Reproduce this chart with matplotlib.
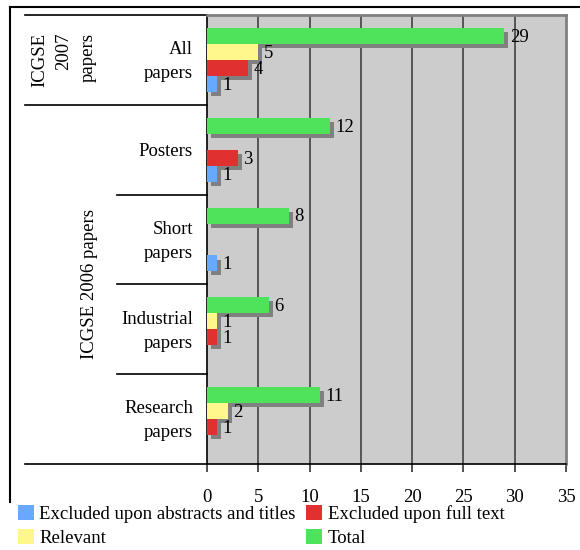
import matplotlib
matplotlib.use("Agg")
import matplotlib.pyplot as plt
import matplotlib.patheffects as pe
from matplotlib.lines import Line2D
import matplotlib.transforms as mtrans

plt.rcParams['font.family'] = ['Liberation Serif', 'DejaVu Serif']

categories = ["All\npapers", "Posters", "Short\npapers", "Industrial\npapers", "Research\npapers"]
series_names = ["Total", "Relevant", "Excluded upon full text", "Excluded upon abstracts and titles"]
total = [29, 12, 8, 6, 11]
relevant = [5, 0, 0, 1, 2]
excl_full = [4, 3, 0, 1, 1]
excl_abs = [1, 1, 1, 0, 0]
xticks = [0, 5, 10, 15, 20, 25, 30, 35]
group_labels = ["ICGSE\n2007\npapers", "ICGSE 2006 papers"]

colors = {"Total": "#4ee35a", "Relevant": "#fff68c",
          "Excluded upon full text": "#e0302f",
          "Excluded upon abstracts and titles": "#66aaff"}

fig = plt.figure(figsize=(5.8, 5.5), dpi=100)
W, H = 580, 550
ax = fig.add_axes([207 / W, 1 - 464 / H, (566 - 207) / W, (464 - 15) / H])
ax.set_facecolor("#cccccc")

fs = 13.5
bh = 0.178
offsets = [-1.5 * bh, -0.5 * bh, 0.5 * bh, 1.5 * bh]
data = [total, relevant, excl_full, excl_abs]
ypos = list(range(len(categories)))
shadow = [pe.SimplePatchShadow(offset=(2.9, -2.9), shadow_rgbFace="#808080", alpha=1.0), pe.Normal()]

for i, (name, vals) in enumerate(zip(series_names, data)):
    ys = [y + offsets[i] for y in ypos]
    bars = ax.barh(ys, vals, height=bh, color=colors[name], zorder=3 + i, label=name)
    for b, v in zip(bars, vals):
        if v > 0:
            b.set_path_effects(shadow)
            ax.annotate(str(v), (v, b.get_y() + bh / 2), xytext=(4, -1), textcoords="offset points",
                        ha="left", va="center", fontsize=fs, zorder=10)
        else:
            b.set_visible(False)

ax.set_xlim(0, 35)
ax.set_ylim(4.5, -0.5)
ax.set_xticks(xticks)
ax.set_xticklabels([str(t) for t in xticks], fontsize=fs)
ax.set_yticks([])
ax.tick_params(axis="x", length=6, width=1.2, color="#333333", pad=12)
for x in xticks[1:-1]:
    ax.axvline(x, color="#555555", lw=1.4, zorder=1)
ax.spines["left"].set_color("black")
ax.spines["left"].set_linewidth(1.2)
ax.spines["bottom"].set_color("black")
ax.spines["bottom"].set_linewidth(1.2)
ax.spines["top"].set_color("#808080")
ax.spines["top"].set_linewidth(2)
ax.spines["right"].set_color("#808080")
ax.spines["right"].set_linewidth(2)

# table-like label column
blend = mtrans.blended_transform_factory(ax.transAxes, ax.transData)
xfull = (25 - 207) / (566 - 207)
xinner = (117 - 207) / (566 - 207)
for yb, x0 in [(-0.5, xfull), (0.5, xfull), (1.5, xinner), (2.5, xinner), (3.5, xinner), (4.5, xfull)]:
    ax.add_line(Line2D([x0, 0], [yb, yb], transform=blend, color="black", lw=1.2, clip_on=False))

for y, lab in zip(ypos, categories):
    ax.text(-14 / 359, y + 0.02, lab, transform=blend, ha="right", va="center", fontsize=fs,
            linespacing=1.55, multialignment="right")

ax.text((64 - 207) / 359, 0, group_labels[0], transform=blend, rotation=90, ha="center", va="center",
        fontsize=fs, linespacing=1.55, multialignment="right")
ax.text((90 - 207) / 359, 2.5, group_labels[1], transform=blend, rotation=90, ha="center", va="center",
        fontsize=fs)

# outer frame
fig.add_artist(Line2D([10 / W, 10 / W], [1 - 7 / H, 1 - 502 / H], color="black", lw=1.5))
fig.add_artist(Line2D([10 / W, 1.0], [1 - 7 / H, 1 - 7 / H], color="black", lw=1.5))

# legend
handles, labels = ax.get_legend_handles_labels()
hmap = dict(zip(labels, handles))
order = ["Excluded upon abstracts and titles", "Relevant", "Excluded upon full text", "Total"]
leg = fig.legend([hmap[o] for o in order], order, loc="lower left", bbox_to_anchor=(15 / W, 0.0),
                 ncol=2, frameon=False, fontsize=fs, handlelength=0.85, handleheight=0.85,
                 handletextpad=0.3, columnspacing=0.55, labelspacing=0.32, borderpad=0.15,
                 borderaxespad=0.0)
for h in leg.legend_handles:
    h.set_path_effects([])

fig.savefig("out.png", dpi=100)
